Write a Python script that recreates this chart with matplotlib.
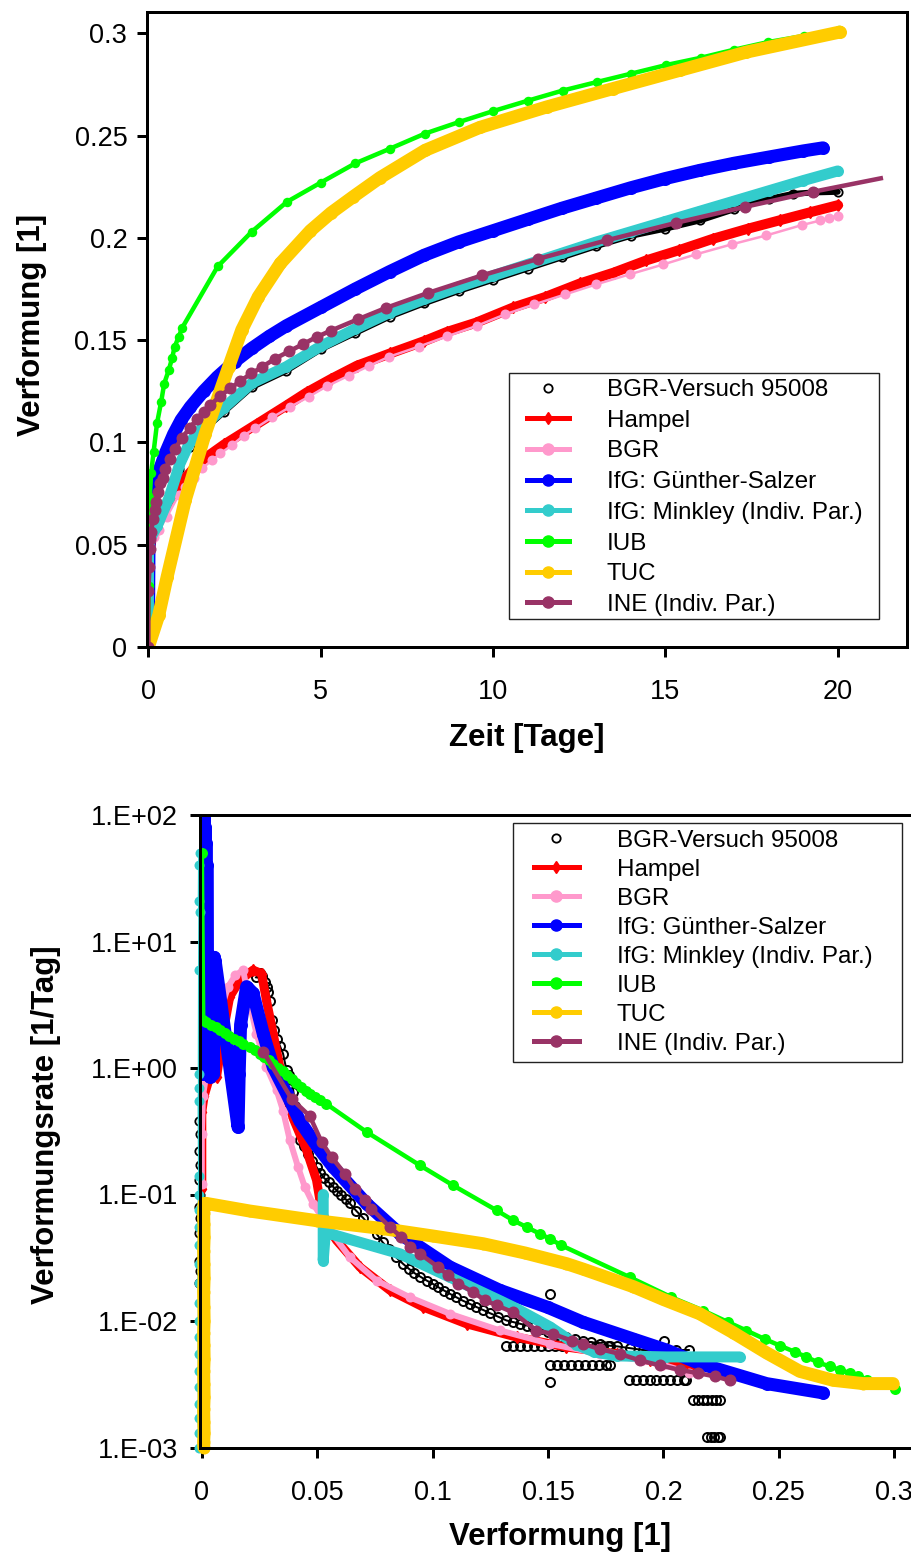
import matplotlib
matplotlib.use("Agg")
import matplotlib.pyplot as plt
from matplotlib.lines import Line2D
from matplotlib.patches import Rectangle
from matplotlib.ticker import NullLocator

plt.rcParams['font.family'] = ['Liberation Sans', 'DejaVu Sans']

# ---------------- series names / colours ----------------
labels = ["BGR-Versuch 95008", "Hampel", "BGR", "IfG: Günther-Salzer",
          "IfG: Minkley (Indiv. Par.)", "IUB", "TUC", "INE (Indiv. Par.)"]
colors = ["#000000", "#FF0000", "#FF99CC", "#0000FF", "#33CCCC",
          "#00FF00", "#FFCC00", "#993366"]

# ---------------- top panel: strain vs time ----------------
top_xticks = [0, 5, 10, 15, 20]
top_xticklabels = ["0", "5", "10", "15", "20"]
top_yticks = [0, 0.05, 0.1, 0.15, 0.2, 0.25, 0.3]
top_yticklabels = ["0", "0.05", "0.1", "0.15", "0.2", "0.25", "0.3"]

exp_t = [0, 0.01, 0.05, 0.25, 0.6, 0.9, 1.2, 1.6, 2.2, 3, 4, 5, 6, 7, 8, 9, 10,
         11, 12, 13, 14, 15, 16, 17, 17.35, 18, 18.7, 19.3, 20]
exp_eps = [0, 0.03, 0.051, 0.057, 0.071, 0.087, 0.098, 0.106, 0.115, 0.127, 0.135,
           0.1455, 0.1535, 0.1615, 0.168, 0.174, 0.1795, 0.185, 0.1905, 0.196,
           0.201, 0.2045, 0.2085, 0.214, 0.216, 0.219, 0.2215, 0.2222, 0.2225]

hampel_t = [0, 0.02, 0.1, 0.3, 0.6, 0.93, 1.3, 1.7, 2.2, 3.15, 4.0, 4.6, 5.3, 6.05,
            7.01, 8.0, 8.66, 9.5, 10.59, 11.5, 12.52, 13.5, 14.45, 15.4, 16.39,
            17.4, 18.32, 19.2, 20.01]
hampel_eps = [0, 0.046, 0.053, 0.061, 0.071, 0.08, 0.087, 0.093, 0.099, 0.109,
              0.118, 0.1245, 0.131, 0.1375, 0.1435, 0.1495, 0.154, 0.1585, 0.166,
              0.171, 0.1777, 0.183, 0.189, 0.194, 0.1996, 0.2045, 0.2086, 0.2125,
              0.216]

bgr_t = [0, 0.01, 0.15, 0.3, 0.54, 0.88, 1.07, 1.31, 1.56, 1.85, 2.09, 2.43, 2.76,
         3.1, 3.59, 4.12, 4.65, 5.18, 5.81, 6.39, 6.97, 7.84, 8.66, 9.53, 10.35,
         11.2, 12.1, 13.0, 13.97, 14.94, 15.9, 16.92, 17.93, 18.95, 19.5, 19.75, 20.0]
bgr_eps = [0, 0.045, 0.0539, 0.057, 0.0637, 0.0743, 0.0783, 0.0824, 0.0873, 0.0914,
           0.0946, 0.0987, 0.1033, 0.1069, 0.1122, 0.1174, 0.1223, 0.1275, 0.1326,
           0.1373, 0.1418, 0.1468, 0.1518, 0.157, 0.1626, 0.1675, 0.1724, 0.1773,
           0.1822, 0.187, 0.192, 0.1968, 0.2012, 0.2062, 0.2085, 0.2098, 0.2108]

gs_t = [0, 0.02, 0.1, 0.2, 0.35, 0.5, 0.73, 0.95, 1.22, 1.6, 2.0, 2.5, 3.0, 3.5,
        4.0, 5.0, 6.0, 7.0, 8.0, 9.0, 10.0, 11.0, 12.0, 13.0, 14.0, 15.0, 16.0,
        17.0, 18.0, 19.0, 19.57]
gs_eps = [0, 0.055, 0.07, 0.079, 0.088, 0.095, 0.104, 0.111, 0.1174, 0.125, 0.132,
          0.1395, 0.146, 0.1518, 0.157, 0.166, 0.175, 0.1835, 0.1915, 0.198, 0.2035,
          0.209, 0.2145, 0.2195, 0.2245, 0.229, 0.233, 0.2365, 0.2395, 0.2425, 0.244]

mk_t = [0, 0.005, 0.05, 0.25, 0.6, 0.9, 1.2, 1.6, 2.2, 3, 4, 5, 6, 7, 8, 9, 10,
        11, 12, 13, 14, 15, 16, 17, 18, 19, 20]
mk_eps = [0, 0.048, 0.053, 0.059, 0.073, 0.089, 0.1, 0.108, 0.117, 0.129, 0.137,
          0.147, 0.1555, 0.1635, 0.17, 0.176, 0.1815, 0.187, 0.1925, 0.198, 0.203,
          0.208, 0.213, 0.218, 0.223, 0.228, 0.2327]

iub_t = [0, 0.01, 0.02, 0.04, 0.08, 0.15, 0.25, 0.37, 0.46, 0.59, 0.69, 0.76, 0.88,
         0.98, 2.01, 3.0, 4.02, 5.0, 6.0, 7.01, 8.03, 9.01, 10.01, 11.0, 12.02,
         13.02, 13.99, 15.03, 16.02, 17.0, 17.98, 19.01, 20.04]
iub_eps = [0, 0.03, 0.055, 0.0734, 0.085, 0.0951, 0.1093, 0.1198, 0.1288, 0.1353,
           0.1413, 0.1467, 0.1516, 0.156, 0.186, 0.203, 0.2176, 0.227, 0.2364,
           0.2436, 0.251, 0.2566, 0.262, 0.267, 0.272, 0.2762, 0.2802, 0.2845,
           0.288, 0.292, 0.2957, 0.2987, 0.3014]

tuc_t = [0, 0.3, 0.54, 1.07, 1.65, 2.33, 2.71, 3.19, 3.83, 4.7, 5.3, 5.95, 6.72,
         8.03, 9.62, 11.56, 13.49, 15.42, 17.35, 20.06]
tuc_eps = [0, 0.0155, 0.034, 0.0718, 0.1043, 0.137, 0.155, 0.1712, 0.1875, 0.2035,
           0.2122, 0.2202, 0.2294, 0.2428, 0.254, 0.264, 0.273, 0.2819, 0.2908,
           0.3006]

ine_t = [0, 0.0, 0.03, 0.04, 0.06, 0.08, 0.13, 0.18, 0.23, 0.27, 0.33, 0.41, 0.49,
         0.64, 0.78, 0.98, 1.2, 1.41, 1.6, 1.8, 2.07, 2.38, 2.67, 2.99, 3.3, 3.68,
         4.09, 4.48, 4.89, 5.29, 6.08, 6.9, 8.1, 9.69, 11.3, 13.3, 15.3, 17.3,
         19.28, 21.25]
ine_eps = [0, 0.0275, 0.039, 0.0477, 0.0526, 0.0563, 0.0624, 0.0669, 0.071, 0.0756,
           0.080, 0.0825, 0.0868, 0.0921, 0.097, 0.1023, 0.1071, 0.1114, 0.115,
           0.1182, 0.1226, 0.1264, 0.1301, 0.1337, 0.1369, 0.141, 0.1446, 0.148,
           0.1516, 0.1546, 0.1602, 0.1658, 0.173, 0.1817, 0.1897, 0.1988, 0.2073,
           0.2151, 0.2225, 0.2291]

# ---------------- bottom panel: strain rate vs strain ----------------
bot_xticks = [0, 0.05, 0.1, 0.15, 0.2, 0.25, 0.3]
bot_xticklabels = ["0", "0.05", "0.1", "0.15", "0.2", "0.25", "0.3"]
bot_yticks = [1e-3, 1e-2, 1e-1, 1e0, 1e1, 1e2]
bot_yticklabels = ["1.E-03", "1.E-02", "1.E-01", "1.E+00", "1.E+01", "1.E+02"]

exp_col_eps = [-0.001, -0.0008, -0.0011, -0.0009, -0.001, -0.0008, -0.0011, -0.0009,
               -0.001, -0.0008, -0.0011, -0.0009, -0.001]
exp_col_rate = [0.02, 0.025, 0.03, 0.04, 0.05, 0.065, 0.08, 0.1, 0.13, 0.17,
                0.22, 0.3, 0.38]
exp_eps_b = [0.0235, 0.025, 0.0262, 0.0273, 0.0281, 0.0288, 0.0295, 0.0302, 0.0313,
             0.0325, 0.0338, 0.0352, 0.0367, 0.0378, 0.0389, 0.0397, 0.0405, 0.0415,
             0.0425, 0.0442, 0.046, 0.0478, 0.0497, 0.0513, 0.053, 0.055, 0.0569,
             0.0587, 0.0605, 0.0623, 0.0641, 0.067, 0.07, 0.0728, 0.0757, 0.0783,
             0.081, 0.0841, 0.0872, 0.0896, 0.092, 0.0947, 0.0974, 0.1, 0.1025, 0.105,
             0.1075, 0.11, 0.113, 0.116, 0.119, 0.122, 0.125, 0.1285, 0.132, 0.135,
             0.138, 0.141, 0.1436, 0.147, 0.15, 0.154, 0.158, 0.1615, 0.165, 0.1687,
             0.1724, 0.176, 0.18, 0.1855, 0.191, 0.1955, 0.2, 0.2055, 0.211]
exp_rate_b = [5.2, 5.6, 5.3, 4.8, 4.4, 4.0, 3.4, 2.4, 2.0, 1.7, 1.5, 1.3, 0.96, 0.88,
              0.8, 0.65, 0.5, 0.37, 0.27, 0.24, 0.21, 0.185, 0.165, 0.148, 0.135,
              0.125, 0.115, 0.107, 0.1, 0.092, 0.085, 0.074, 0.065, 0.056, 0.049,
              0.042, 0.037, 0.032, 0.0283, 0.026, 0.024, 0.0224, 0.0209, 0.0197,
              0.0185, 0.0174, 0.0164, 0.0155, 0.0145, 0.0137, 0.0129, 0.0122, 0.0115,
              0.0108, 0.0101, 0.0098, 0.0095, 0.0092, 0.009, 0.0086, 0.0082, 0.0078,
              0.0075, 0.0072, 0.007, 0.0068, 0.0066, 0.0064, 0.0063, 0.0061, 0.0059,
              0.0059, 0.0059, 0.0059, 0.0059]
exp_sc_eps = [0.132, 0.135, 0.138, 0.141, 0.144, 0.147, 0.150, 0.153, 0.156, 0.159,
              0.162, 0.165, 0.168, 0.171, 0.174, 0.177,
              0.151, 0.154, 0.157, 0.160, 0.163, 0.166, 0.169, 0.172, 0.175, 0.177,
              0.185, 0.188, 0.191, 0.194, 0.197, 0.2, 0.203, 0.206, 0.209, 0.210,
              0.213, 0.215, 0.217, 0.219, 0.221, 0.223, 0.2245,
              0.219, 0.2205, 0.222, 0.2235, 0.2245,
              0.151, 0.1508, 0.2003]
exp_sc_rate = [0.0064, 0.0064, 0.0064, 0.0064, 0.0064, 0.0064, 0.0064, 0.0064,
               0.0064, 0.0064, 0.0064, 0.0064, 0.0064, 0.0064, 0.0064, 0.0064,
               0.00446, 0.00446, 0.00446, 0.00446, 0.00446, 0.00446, 0.00446,
               0.00446, 0.00446, 0.00446,
               0.00343, 0.00343, 0.00343, 0.00343, 0.00343, 0.00343, 0.00343,
               0.00343, 0.00343, 0.00343,
               0.00236, 0.00236, 0.00236, 0.00236, 0.00236, 0.00236, 0.00236,
               0.00121, 0.00121, 0.00121, 0.00121, 0.00121,
               0.0163, 0.0033, 0.0069]

hampel_eps_b = [0.0, 0.0, 0.001, 0.003, 0.0064, 0.009, 0.0121, 0.0165, 0.0222,
                0.0259, 0.028, 0.0309, 0.0338, 0.0367, 0.0396, 0.0454, 0.0497,
                0.0519, 0.0555, 0.0584, 0.0685, 0.0815, 0.0959, 0.1147, 0.1364,
                0.158, 0.1797, 0.194, 0.2083, 0.216]
hampel_rate_b = [0.11, 0.45, 0.6, 0.8, 0.85, 1.8, 3.66, 4.95, 5.94, 5.58, 3.43, 1.87,
                 1.02, 0.6, 0.4, 0.224, 0.13, 0.075, 0.052, 0.0434, 0.0267, 0.0175,
                 0.0129, 0.0095, 0.00746, 0.00622, 0.00551, 0.00488, 0.0046, 0.00432]

bgr_eps_b = [0.0, 0.0, 0.0005, 0.002, 0.005, 0.008, 0.0114, 0.0145, 0.0179, 0.0205,
             0.0237, 0.028, 0.0324, 0.0352, 0.0381, 0.0417, 0.0446, 0.0482, 0.0555,
             0.0641, 0.0757, 0.0901, 0.1075, 0.1291, 0.1508, 0.1724, 0.191, 0.2,
             0.211]
bgr_rate_b = [0.12, 0.3, 0.6, 0.9, 1.5, 2.8, 4.4, 5.4, 5.94, 3.4, 1.87, 1.02, 0.67,
              0.46, 0.27, 0.165, 0.115, 0.0846, 0.052, 0.032, 0.0209, 0.0154, 0.0114,
              0.00843, 0.0066, 0.0055, 0.00488, 0.0045, 0.0039]

gs_eps_b = [0.0, 0.0002, 0.0004, 0.0006, 0.0008, 0.001, 0.0012, 0.0014, 0.0016,
            0.0018, 0.002, 0.0022, 0.0026, 0.003, 0.0034, 0.0038, 0.0042, 0.0046,
            0.005, 0.0054, 0.0058, 0.0157, 0.0162, 0.0168, 0.0194, 0.0222, 0.0266,
            0.0309, 0.0367, 0.0425, 0.05, 0.0569, 0.0714, 0.0858, 0.1075, 0.1291,
            0.15, 0.165, 0.187, 0.2013, 0.2158, 0.2447, 0.2693]
gs_rate_b = [0.9, 95, 1.0, 90, 0.9, 95, 1.1, 80, 0.9, 60, 1.0, 40, 0.9, 7.5, 0.85,
             7.5, 0.9, 7.5, 0.9, 7.5, 7.0, 0.34, 0.9, 2.2, 4.4, 3.9, 1.87, 1.02,
             0.63, 0.38, 0.24, 0.165, 0.0846, 0.049, 0.0267, 0.0175, 0.0128, 0.0098,
             0.0072, 0.0059, 0.0046, 0.0032, 0.0027]

mk_col_eps = [-0.0012, -0.001, -0.0013, -0.0011, -0.0012, -0.001, -0.0013, -0.0011,
              -0.0012, -0.001, -0.0013, -0.0011, -0.0012, -0.001, -0.0013, -0.0011,
              -0.001, -0.0012, -0.001, -0.0011, -0.001, -0.0009, -0.0011, -0.001,
              -0.0009]
mk_col_rate = [0.001, 0.0013, 0.0017, 0.0022, 0.003, 0.004, 0.0055, 0.0075, 0.01,
               0.014, 0.02, 0.028, 0.04, 0.055, 0.075, 0.1, 0.14, 0.55, 0.7, 0.9,
               6.0, 17.0, 21.0, 40.0, 50.0]
mk_eps_b = [0.0526, 0.0526, 0.0535, 0.0555, 0.0858, 0.1075, 0.1291, 0.1364, 0.1508,
            0.1623, 0.17, 0.1797, 0.2013, 0.2331]
mk_rate_b = [0.1, 0.03, 0.049, 0.049, 0.034, 0.0222, 0.0145, 0.0125, 0.009, 0.0065,
             0.0057, 0.0053, 0.0052, 0.0052]

iub_eps_b = [0.0, 0.0006, 0.002, 0.004, 0.006, 0.008, 0.01, 0.012, 0.014, 0.016,
             0.018, 0.0208, 0.023, 0.025, 0.027, 0.029, 0.031, 0.033, 0.035, 0.037,
             0.039, 0.041, 0.043, 0.045, 0.047, 0.049, 0.0511, 0.054,
             0.0714, 0.0945, 0.1089, 0.1277, 0.1349, 0.1407, 0.1464, 0.1508, 0.1558,
             0.1854, 0.2035, 0.2172, 0.228, 0.236, 0.2439, 0.2504, 0.2569, 0.262,
             0.267, 0.272, 0.2764, 0.2808, 0.2844, 0.288, 0.2923, 0.3003]
iub_rate_b = [50, 2.39, 2.3, 2.2, 2.1, 2.0, 1.9, 1.8, 1.71, 1.62, 1.55, 1.47, 1.38,
              1.3, 1.22, 1.15, 1.07, 1.0, 0.94, 0.88, 0.82, 0.76, 0.71, 0.66, 0.62,
              0.59, 0.556, 0.52,
              0.312, 0.17, 0.118, 0.075, 0.0625, 0.0553, 0.049, 0.0447, 0.0396,
              0.0222, 0.0154, 0.0121, 0.0098, 0.0084, 0.0072, 0.0064, 0.0057, 0.0052,
              0.0047, 0.00438, 0.00411, 0.00387, 0.00365, 0.00339, 0.00319, 0.00291]

tuc_eps_b = [0.0009, 0.0008, 0.001, 0.0009, 0.0008, 0.001, 0.0009, 0.0008, 0.001,
             0.0009, 0.0008, 0.001, 0.0009, 0.0008, 0.001, 0.0009, 0.0008, 0.001,
             0.0009, 0.0008, 0.001, 0.002, 0.0208, 0.05, 0.0786, 0.1, 0.1219, 0.14,
             0.158, 0.1652, 0.1869, 0.2, 0.2158, 0.2302, 0.2447, 0.2591, 0.2735,
             0.2865, 0.2995]
tuc_rate_b = [0.001, 0.0011, 0.0013, 0.0016, 0.002, 0.0025, 0.0032, 0.004, 0.005,
              0.0065, 0.008, 0.01, 0.013, 0.017, 0.022, 0.028, 0.036, 0.046, 0.058,
              0.072, 0.085, 0.085, 0.074, 0.062, 0.0537, 0.047, 0.0408, 0.0345,
              0.0284, 0.0257, 0.0187, 0.0148, 0.0114, 0.0081, 0.0056, 0.004, 0.0034,
              0.0032, 0.0032]

ine_eps_b = [0.0266, 0.0389, 0.0468, 0.0519, 0.0562, 0.062, 0.0663, 0.0706, 0.0735,
             0.0815, 0.0865, 0.0901, 0.0945, 0.1024, 0.1067, 0.1111, 0.1176, 0.1226,
             0.1277, 0.1349, 0.145, 0.1522, 0.1602, 0.1652, 0.1724, 0.1811, 0.1898,
             0.1984, 0.2071, 0.215, 0.2223, 0.2288]
ine_rate_b = [1.35, 0.57, 0.416, 0.26, 0.198, 0.146, 0.111, 0.09, 0.0773, 0.0553,
              0.0461, 0.0385, 0.034, 0.0267, 0.023, 0.0197, 0.0169, 0.0146, 0.0133,
              0.0117, 0.0084, 0.0079, 0.007, 0.0066, 0.006, 0.0055, 0.00488, 0.00446,
              0.00411, 0.00387, 0.00365, 0.00339]

# ---------------- figure ----------------
W, H = 911, 1558
fig = plt.figure(figsize=(W / 100, H / 100), dpi=100)


def px_axes(x0, y0, x1, y1):
    return fig.add_axes([x0 / W, 1 - y1 / H, (x1 - x0) / W, (y1 - y0) / H])


TICK_FS = 19.5
LAB_FS = 22.5
LEG_FS = 17.4
px = 0.72  # points per pixel

round_kw = dict(solid_capstyle='round', solid_joinstyle='round')


def style_axes(ax, xpad, ypad):
    for s in ax.spines.values():
        s.set_linewidth(3 * px)
    ax.tick_params(which='major', direction='out', length=10 * px, width=3 * px,
                   labelsize=TICK_FS, top=False, right=False)
    ax.tick_params(axis='x', pad=xpad)
    ax.tick_params(axis='y', pad=ypad)


def legend(ax, box, handle_x, first_row_y, spacing, hlen, htpad):
    bx0, by0, bx1, by1 = box
    frame = Rectangle((bx0 / W, 1 - by1 / H), (bx1 - bx0) / W, (by1 - by0) / H,
                      transform=fig.transFigure, facecolor='white', edgecolor='#222222',
                      linewidth=1.0, zorder=4.5, clip_on=False)
    ax.add_artist(frame)
    handles = [
        Line2D([], [], color='black', marker='o', mfc='none', ms=6, mew=1.3, ls='none'),
        Line2D([], [], color=colors[1], lw=5 * px, marker='d', ms=6),
        Line2D([], [], color=colors[2], lw=5 * px, marker='o', ms=8),
        Line2D([], [], color=colors[3], lw=5 * px, marker='o', ms=8),
        Line2D([], [], color=colors[4], lw=5 * px, marker='o', ms=8),
        Line2D([], [], color=colors[5], lw=5 * px, marker='o', ms=8),
        Line2D([], [], color=colors[6], lw=5 * px, marker='o', ms=8),
        Line2D([], [], color=colors[7], lw=5 * px, marker='o', ms=8),
    ]
    leg = ax.legend(handles, labels, loc='upper left',
                    bbox_to_anchor=(handle_x / W, 1 - (first_row_y - 11) / H),
                    bbox_transform=fig.transFigure,
                    borderaxespad=0, fontsize=LEG_FS, frameon=False,
                    handlelength=hlen, handletextpad=htpad, labelspacing=spacing,
                    borderpad=0, numpoints=1)
    leg.set_zorder(5)
    return leg


# ---- top panel ----
ax1 = px_axes(147, 12, 907, 647)
ax1.plot(exp_t, exp_eps, color='black', lw=6 * px, marker='o', mfc='none', ms=6,
         mew=1.3, **round_kw)
ax1.plot(hampel_t, hampel_eps, color=colors[1], lw=10 * px, marker='d', ms=6, **round_kw)
ax1.plot(bgr_t, bgr_eps, color=colors[2], lw=2.5 * px, marker='o', ms=10 * px, mec='none')
ax1.plot(gs_t, gs_eps, color=colors[3], lw=13 * px, marker='o', ms=13 * px, mec='none',
         **round_kw)
ax1.plot(mk_t, mk_eps, color=colors[4], lw=11 * px, marker='o', ms=11 * px, mec='none',
         **round_kw)
ax1.plot(iub_t, iub_eps, color=colors[5], lw=4.5 * px, marker='o', ms=9.5 * px, mec='none')
ax1.plot(tuc_t, tuc_eps, color=colors[6], lw=13 * px, marker='o', ms=13 * px, mec='none',
         **round_kw)
ax1.plot(ine_t, ine_eps, color=colors[7], lw=4.5 * px, marker='o', ms=12 * px, mec='none',
         markevery=list(range(len(ine_t) - 1)))

ax1.set_xlim(-0.04, 22.01)
ax1.set_ylim(0, 0.3104)
ax1.set_xticks(top_xticks)
ax1.set_xticklabels(top_xticklabels)
ax1.set_yticks(top_yticks)
ax1.set_yticklabels(top_yticklabels)
style_axes(ax1, xpad=16, ypad=7)
ax1.set_xlabel("Zeit [Tage]", fontsize=LAB_FS, fontweight='bold', va='center')
ax1.set_ylabel("Verformung [1]", fontsize=LAB_FS, fontweight='bold', va='center')
ax1.xaxis.set_label_coords(0.5, (647 - 738) / 635)
ax1.yaxis.set_label_coords((32 - 147) / 760, 0.507)
legend(ax1, (509, 373, 879, 619), 527, 390, 0.36, 1.74, 1.57)

# ---- bottom panel ----
ax2 = px_axes(200, 815, 917, 1447.5)
ax2.set_yscale('log')
ax2.plot(exp_col_eps, exp_col_rate, color='black', lw=0, marker='o', mfc='none', ms=6,
         mew=1.3, clip_on=False)
ax2.plot(exp_eps_b, exp_rate_b, color='black', lw=2 * px, marker='o', mfc='none',
         ms=6.5, mew=1.4)
ax2.plot(exp_sc_eps, exp_sc_rate, color='black', lw=0, marker='o', mfc='none', ms=6.5,
         mew=1.4)
ax2.plot(hampel_eps_b, hampel_rate_b, color=colors[1], lw=9 * px, marker='d', ms=6,
         **round_kw)
ax2.plot(bgr_eps_b, bgr_rate_b, color=colors[2], lw=6 * px, marker='o', ms=10 * px,
         mec='none', **round_kw)
ax2.plot(gs_eps_b, gs_rate_b, color=colors[3], lw=13 * px, marker='o', ms=13 * px,
         mec='none', **round_kw)
ax2.plot(mk_col_eps, mk_col_rate, color=colors[4], lw=3 * px, marker='o', ms=10 * px,
         mec='none', clip_on=False)
ax2.plot(mk_eps_b, mk_rate_b, color=colors[4], lw=11 * px, marker='o', ms=11 * px,
         mec='none', **round_kw)
ax2.plot(iub_eps_b, iub_rate_b, color=colors[5], lw=4.5 * px, marker='o', ms=11 * px,
         mec='none')
ax2.plot(tuc_eps_b, tuc_rate_b, color=colors[6], lw=13 * px, marker='o', ms=12 * px,
         mec='none', clip_on=False, **round_kw)
ax2.plot(ine_eps_b, ine_rate_b, color=colors[7], lw=4.5 * px, marker='o', ms=12 * px,
         mec='none')

ax2.set_xlim((200 - 201.8) / 2308, (917 - 201.8) / 2308)
ax2.set_ylim(1e-3, 1e2)
ax2.set_xticks(bot_xticks)
ax2.set_xticklabels(bot_xticklabels)
ax2.set_yticks(bot_yticks)
ax2.set_yticklabels(bot_yticklabels)
ax2.yaxis.set_minor_locator(NullLocator())
style_axes(ax2, xpad=16, ypad=8.5)
ax2.set_xlabel("Verformung [1]", fontsize=LAB_FS, fontweight='bold', va='center')
ax2.set_ylabel("Verformungsrate [1/Tag]", fontsize=LAB_FS, fontweight='bold', va='center')
ax2.xaxis.set_label_coords(0.5017, (1447.5 - 1537) / 632.5)
ax2.yaxis.set_label_coords((46 - 200) / 717, 0.51)
legend(ax2, (513, 823, 902, 1062), 534, 840.7, 0.29, 1.86, 1.57)

fig.savefig("out.png", dpi=100)
